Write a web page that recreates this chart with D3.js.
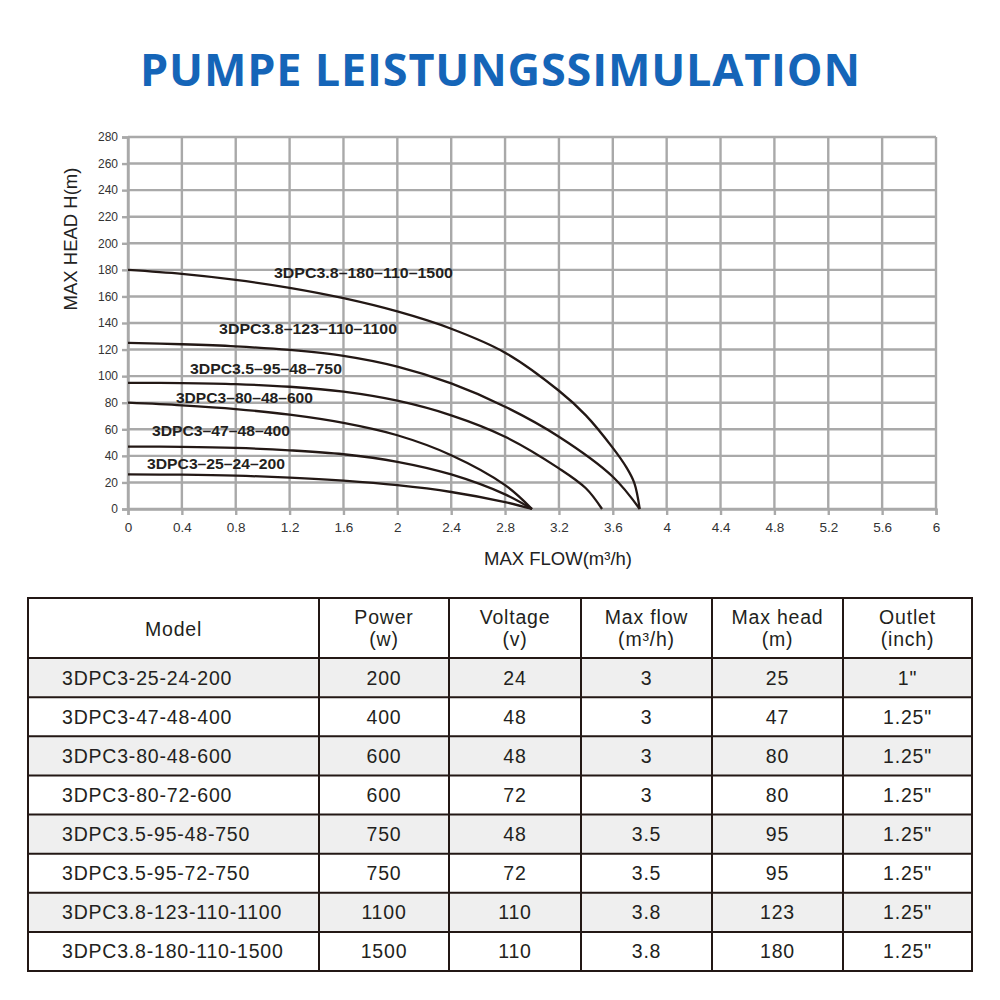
<!DOCTYPE html>
<html><head><meta charset="utf-8">
<script src="https://cdn.jsdelivr.net/npm/d3@7/dist/d3.min.js"></script>
<style>
html,body{margin:0;padding:0;background:#fff;}
svg{display:block;}
</style></head>
<body>
<svg id="chart" width="1000" height="1000"></svg>
<script>
// ---------- DATA ----------
const titleText = "PUMPE LEISTUNGSSIMULATION";
const xTicks = [0,0.4,0.8,1.2,1.6,2,2.4,2.8,3.2,3.6,4,4.4,4.8,5.2,5.6,6];
const yTicks = [0,20,40,60,80,100,120,140,160,180,200,220,240,260,280];
const xAxisTitle = "MAX FLOW(m³/h)";
const yAxisTitle = "MAX HEAD H(m)";

const curveNames = ["3DPC3.8–180–110–1500","3DPC3.8–123–110–1100","3DPC3.5–95–48–750","3DPC3–80–48–600","3DPC3–47–48–400","3DPC3–25–24–200"];
const flow1 = [0,0.4,0.8,1.2,1.6,2.0,2.4,2.8,3.2,3.4,3.6,3.7,3.76,3.8];
const head1 = [180,177,172.5,166.5,158.7,148.7,135.7,117.7,89,70.5,46,31.5,19.5,0];
const flow2 = [0,0.4,0.8,1.2,1.6,2.0,2.4,2.8,3.2,3.6,3.8];
const head2 = [125,124,122.4,119.7,115.2,107.1,94.5,77,54.4,24.3,0];
const flow3 = [0,0.4,0.8,1.2,1.6,2.0,2.4,2.8,3.2,3.4,3.52];
const head3 = [95,94.8,94,92,88.3,81.5,70.5,54.4,30.6,15.6,0];
const flow4 = [0,0.4,0.8,1.2,1.6,2.0,2.4,2.8,3.0];
const head4 = [80,78,75.2,71,64.8,55.5,40.5,18,0];
const flow5 = [0,0.4,0.8,1.2,1.6,2.0,2.4,2.8,3.0];
const head5 = [47,46.8,46,44.2,41.2,35.5,26,11,0];
const flow6 = [0,0.4,0.8,1.2,1.6,2.0,2.4,2.8,3.0];
const head6 = [26,25.8,25.1,23.6,21.3,17.9,12.8,5.2,0];
// label anchors in data units (flow, head)
const labelFlow = [1.084,0.676,0.460,0.356,0.178,0.141];
const labelHead = [173.9,131.7,101.6,79.8,54.6,30.1];

const tableHeader1 = ["Model","Power","Voltage","Max flow","Max head","Outlet"];
const tableHeader2 = ["","(w)","(v)","(m³/h)","(m)","(inch)"];
const models  = ["3DPC3-25-24-200","3DPC3-47-48-400","3DPC3-80-48-600","3DPC3-80-72-600","3DPC3.5-95-48-750","3DPC3.5-95-72-750","3DPC3.8-123-110-1100","3DPC3.8-180-110-1500"];
const powers  = ["200","400","600","600","750","750","1100","1500"];
const voltages= ["24","48","48","72","48","72","110","110"];
const maxFlows= ["3","3","3","3","3.5","3.5","3.8","3.8"];
const maxHeads= ["25","47","80","80","95","95","123","180"];
const outlets = ['1"','1.25"','1.25"','1.25"','1.25"','1.25"','1.25"','1.25"'];

// ---------- LAYOUT ----------
const svg = d3.select("#chart");
const plot = {left:128, right:936, top:137, bottom:509};
const x = d3.scaleLinear().domain([0,6]).range([plot.left, plot.right]);
const y = d3.scaleLinear().domain([0,280]).range([plot.bottom, plot.top]);
const gridColor = "#a9a9a9";
const ink = "#231815";

// Title
svg.append("text").attr("x",500).attr("y",86).attr("text-anchor","middle")
  .attr("textLength",720).attr("lengthAdjust","spacing")
  .style("font-family","'Open Sans', sans-serif").style("font-weight","700")
  .style("font-size","45px").style("fill","#1565b8").text(titleText);

// Grid
const g = svg.append("g");
g.selectAll(".vg").data(xTicks).enter().append("line")
  .attr("x1",d=>x(d)).attr("x2",d=>x(d)).attr("y1",plot.top).attr("y2",plot.bottom)
  .attr("stroke",gridColor).attr("stroke-width",2.4);
g.selectAll(".hg").data(yTicks).enter().append("line")
  .attr("x1",plot.left).attr("x2",plot.right).attr("y1",d=>y(d)).attr("y2",d=>y(d))
  .attr("stroke",gridColor).attr("stroke-width",2.4);

// Axes
const xAxis = d3.axisBottom(x).tickValues(xTicks).tickSize(6).tickPadding(7).tickFormat(d=>String(d));
const yAxis = d3.axisLeft(y).tickValues(yTicks).tickSize(6).tickPadding(4).tickFormat(d=>String(d));
const gx = svg.append("g").attr("transform",`translate(0,${plot.bottom})`).call(xAxis);
const gy = svg.append("g").attr("transform",`translate(${plot.left},0)`).call(yAxis);
[gx,gy].forEach(a=>{
  a.select(".domain").attr("stroke",gridColor).attr("stroke-width",2.4);
  a.selectAll(".tick line").attr("stroke",gridColor).attr("stroke-width",2.4);
});
gx.selectAll(".tick text").style("font-family","'Liberation Sans Narrow','Arial Narrow',sans-serif")
  .style("font-size","13.5px").style("fill","#333");
gy.selectAll(".tick text").style("font-family","'Liberation Sans',Arial,sans-serif")
  .style("font-size","12px").style("fill","#333");

// Axis titles
svg.append("text").attr("x",558).attr("y",565).attr("text-anchor","middle")
  .style("font-family","'Liberation Sans Narrow','Arial Narrow',sans-serif").style("font-size","18.5px")
  .style("fill","#222").text(xAxisTitle);
svg.append("text").attr("transform","translate(77,239) rotate(-90)").attr("text-anchor","middle")
  .style("font-family","'Liberation Sans',Arial,sans-serif").style("font-size","18.5px")
  .style("fill","#222").text(yAxisTitle);

// Curves
const flows = [flow1,flow2,flow3,flow4,flow5,flow6];
const heads = [head1,head2,head3,head4,head5,head6];
const series = flows.map((f,i)=>f.map((v,j)=>[v,heads[i][j]]));
const line = d3.line().x(d=>x(d[0])).y(d=>y(d[1])).curve(d3.curveCatmullRom.alpha(0.5));
svg.append("g").selectAll("path").data(series).enter().append("path")
  .attr("d",line).attr("fill","none").attr("stroke",ink).attr("stroke-width",2.3);

// Curve labels
const labelWidths = [179,178,152,137,138,138];
svg.append("g").selectAll("text").data(curveNames).enter().append("text")
  .attr("x",(d,i)=>x(labelFlow[i])).attr("y",(d,i)=>y(labelHead[i]))
  .attr("textLength",(d,i)=>labelWidths[i]).attr("lengthAdjust","spacingAndGlyphs")
  .style("font-family","'Liberation Sans',Arial,sans-serif").style("font-weight","700")
  .style("font-size","14.5px").style("fill","#231f20").text(d=>d);

// ---------- TABLE ----------
const colEdges = [28,319,449,581,712,843,972];
const tTop = 598, headerBottom = 658, tBottom = 971;
const rowScale = d3.scaleBand().domain(d3.range(models.length)).range([headerBottom,tBottom]);
const columns = [models,powers,voltages,maxFlows,maxHeads,outlets];
const tg = svg.append("g");
tg.selectAll(".rowbg").data(models).enter().append("rect")
  .attr("x",colEdges[0]).attr("width",colEdges[6]-colEdges[0])
  .attr("y",(d,i)=>rowScale(i)).attr("height",rowScale.bandwidth())
  .attr("fill",(d,i)=>i%2===0?"#efefef":"#ffffff");
const tfont = "'Liberation Sans',Arial,sans-serif";
function styleT(s){ return s.style("font-family",tfont).style("font-size","19.5px")
  .style("letter-spacing","0.8px").style("fill","#231f20"); }
columns.forEach((col,c)=>{
  styleT(tg.selectAll(".c"+c).data(col).enter().append("text")
    .attr("x", c===0 ? 62 : (colEdges[c]+colEdges[c+1])/2)
    .attr("y",(d,i)=>rowScale(i)+rowScale.bandwidth()/2+7)
    .attr("text-anchor", c===0 ? "start":"middle")
    .text(d=>d));
});
tableHeader1.forEach((h,c)=>{
  const cx = (colEdges[c]+colEdges[c+1])/2;
  if(tableHeader2[c]===""){
    styleT(tg.append("text").attr("x",cx).attr("y",636).attr("text-anchor","middle").text(h));
  } else {
    styleT(tg.append("text").attr("x",cx).attr("y",624).attr("text-anchor","middle").text(h));
    styleT(tg.append("text").attr("x",cx).attr("y",646).attr("text-anchor","middle").text(tableHeader2[c]));
  }
});
const hLines = [tTop, headerBottom].concat(d3.range(1,models.length).map(i=>rowScale(i)), [tBottom]);
tg.selectAll(".hl").data(hLines).enter().append("line")
  .attr("x1",colEdges[0]).attr("x2",colEdges[6]).attr("y1",d=>d).attr("y2",d=>d)
  .attr("stroke",ink).attr("stroke-width",2);
tg.selectAll(".vl").data(colEdges).enter().append("line")
  .attr("x1",d=>d).attr("x2",d=>d).attr("y1",tTop-1).attr("y2",tBottom+1)
  .attr("stroke",ink).attr("stroke-width",2);
</script>
</body></html>
